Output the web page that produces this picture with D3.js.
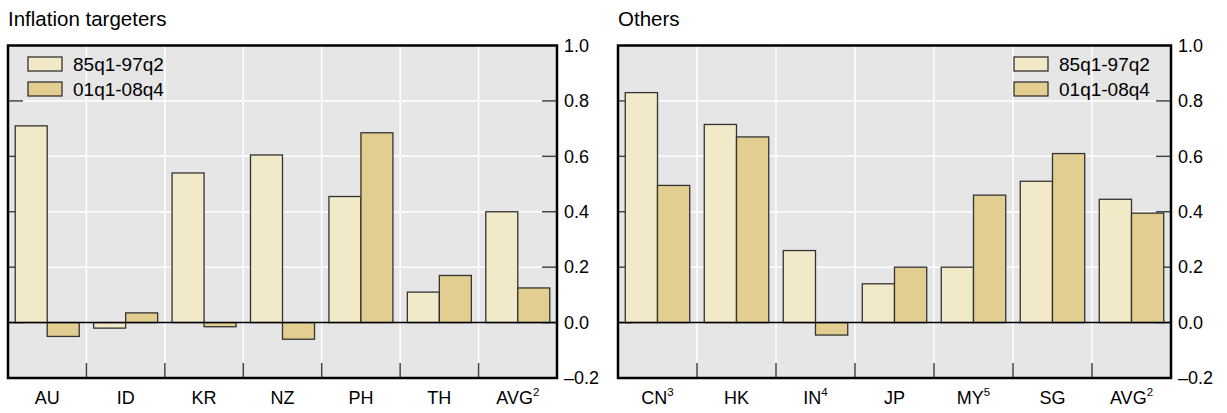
<!DOCTYPE html>
<html><head><meta charset="utf-8">
<script src="https://cdn.jsdelivr.net/npm/d3@7"></script>
<style>body{margin:0;background:#fff;} text{font-family:"Liberation Sans",Arial,sans-serif;}</style>
</head><body><svg id="c" width="1227" height="413"></svg>
<script>
const seriesNames = ["85q1-97q2", "01q1-08q4"];
const leftTitle = "Inflation targeters";
const leftCats = ["AU", "ID", "KR", "NZ", "PH", "TH", "AVG"];
const leftSups = ["", "", "", "", "", "", "2"];
const leftEarly = [0.71, -0.02, 0.54, 0.605, 0.455, 0.11, 0.40];
const leftLate = [-0.05, 0.035, -0.015, -0.06, 0.685, 0.17, 0.125];
const rightTitle = "Others";
const rightCats = ["CN", "HK", "IN", "JP", "MY", "SG", "AVG"];
const rightSups = ["3", "", "4", "", "5", "", "2"];
const rightEarly = [0.83, 0.715, 0.26, 0.14, 0.20, 0.51, 0.445];
const rightLate = [0.495, 0.67, -0.045, 0.20, 0.46, 0.61, 0.395];
const yTicks = [-0.2, 0, 0.2, 0.4, 0.6, 0.8, 1.0];
const yDomain = [-0.2, 1.0];

const colors = ["#F2E9C9", "#E3CE92"];
const svg = d3.select("#c");

function panel(opts) {
  const {x0, x1, title, cats, sups, early, late, legendRight} = opts;
  const top = 45.5, bottom = 378;
  const g = svg.append("g");
  const x = d3.scaleBand().domain(cats).range([x0, x1]).padding(0);
  const y = d3.scaleLinear().domain(yDomain).range([bottom, top]);

  g.append("text").attr("x", x0).attr("y", 26).attr("font-size", 20.5).attr("fill", "#000").text(title);

  g.append("rect").attr("x", x0).attr("y", top).attr("width", x1 - x0).attr("height", bottom - top).attr("fill", "#E6E6E6");

  g.selectAll(".hg").data(yTicks.filter(v => v > -0.2 && v < 1.0 && v !== 0)).enter().append("line")
    .attr("x1", x0).attr("x2", x1).attr("y1", d => y(d)).attr("y2", d => y(d))
    .attr("stroke", "#fff").attr("stroke-width", 1.5);
  g.selectAll(".vg").data(cats.slice(1)).enter().append("line")
    .attr("x1", d => x(d)).attr("x2", d => x(d)).attr("y1", top).attr("y2", bottom)
    .attr("stroke", "#fff").attr("stroke-width", 1.5);

  const tl = 15;
  yTicks.filter(v => v > -0.2 && v < 1.0).forEach(v => {
    g.append("line").attr("x1", x0).attr("x2", x0 + tl).attr("y1", y(v)).attr("y2", y(v)).attr("stroke", "#444").attr("stroke-width", 1.5);
    g.append("line").attr("x1", x1 - tl).attr("x2", x1).attr("y1", y(v)).attr("y2", y(v)).attr("stroke", "#444").attr("stroke-width", 1.5);
  });
  cats.slice(1).forEach(c => {
    g.append("line").attr("x1", x(c)).attr("x2", x(c)).attr("y1", bottom).attr("y2", bottom - tl).attr("stroke", "#444").attr("stroke-width", 1.5);
  });

  const bw = x.bandwidth();
  const pad = bw * 0.092;
  const w = (bw - 2 * pad) / 2;
  [early, late].forEach((vals, si) => {
    g.selectAll(".b" + si).data(vals).enter().append("rect")
      .attr("x", (d, i) => x(cats[i]) + pad + si * w)
      .attr("y", d => y(Math.max(0, d)))
      .attr("width", w)
      .attr("height", d => Math.abs(y(d) - y(0)))
      .attr("fill", colors[si]).attr("stroke", "#333").attr("stroke-width", 1.3);
  });

  g.append("line").attr("x1", x0).attr("x2", x1).attr("y1", y(0)).attr("y2", y(0)).attr("stroke", "#000").attr("stroke-width", 1.5);

  g.append("rect").attr("x", x0).attr("y", top).attr("width", x1 - x0).attr("height", bottom - top)
    .attr("fill", "none").attr("stroke", "#000").attr("stroke-width", 2.5);

  g.selectAll(".yl").data(yTicks).enter().append("text")
    .attr("x", x1 + 7).attr("y", d => y(d)).attr("dy", "0.35em").attr("font-size", 18)
    .text(d => (d < 0 ? "\u2013" : "") + Math.abs(d).toFixed(1));

  cats.forEach((c, i) => {
    const t = g.append("text").attr("x", x(c) + bw / 2).attr("y", 404).attr("text-anchor", "middle").attr("font-size", 18);
    t.append("tspan").text(c);
    if (sups[i]) t.append("tspan").attr("font-size", 11.5).attr("dy", -8).text(sups[i]);
  });

  const sw = 34, sh = 14;
  const lx = legendRight ? x1 - 157 : x0 + 20;
  seriesNames.forEach((n, i) => {
    const yy = 57 + i * 25;
    g.append("rect").attr("x", lx).attr("y", yy).attr("width", sw).attr("height", sh)
      .attr("fill", colors[i]).attr("stroke", "#333").attr("stroke-width", 1.3);
    g.append("text").attr("x", lx + sw + 11).attr("y", yy + sh / 2).attr("dy", "0.36em").attr("font-size", 19).text(n);
  });
}

panel({x0: 8, x1: 557, title: leftTitle, cats: leftCats, sups: leftSups, early: leftEarly, late: leftLate, legendRight: false});
panel({x0: 618, x1: 1171, title: rightTitle, cats: rightCats, sups: rightSups, early: rightEarly, late: rightLate, legendRight: true});
</script></body></html>
